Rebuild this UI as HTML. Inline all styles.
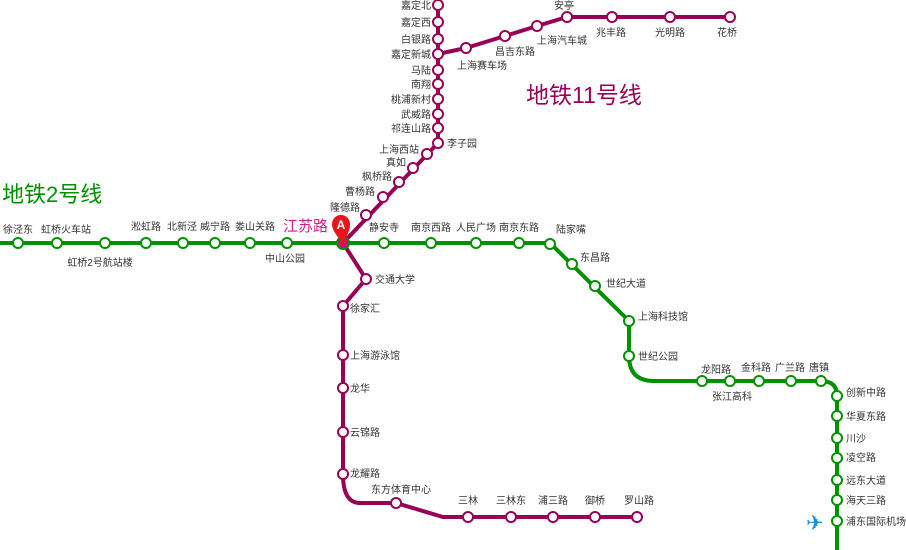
<!DOCTYPE html>
<html><head><meta charset="utf-8"><style>
html,body{margin:0;padding:0;background:#fff;}
svg{display:block;}
text{font-family:"Liberation Sans","Noto Sans CJK SC",sans-serif;font-size:10px;fill:#333;}
</style></head><body>
<svg width="906" height="550" viewBox="0 0 906 550" xmlns="http://www.w3.org/2000/svg">
<path d="M0 243 H550 L629 321 V356 Q629 381 654 381 H821 Q837 381 837 396 V550" fill="none" stroke="#009100" stroke-width="4"/>
<path d="M438 5 V143 L343 243 L366 279 L343 306 V474 Q343 503 360 503 H396 L443 517 H637" fill="none" stroke="#990055" stroke-width="4"/>
<path d="M438 54 L466 48 L505 36 L537 26 L567 17 H730" fill="none" stroke="#990055" stroke-width="4"/>
<g fill="#fff" stroke="#009100" stroke-width="2">
<circle cx="18" cy="243" r="5"/><circle cx="57" cy="243" r="5"/><circle cx="105" cy="243" r="5"/><circle cx="146" cy="243" r="5"/><circle cx="183" cy="243" r="5"/><circle cx="215" cy="243" r="5"/><circle cx="250" cy="243" r="5"/><circle cx="287" cy="243" r="5"/><circle cx="384" cy="243" r="5"/><circle cx="431" cy="243" r="5"/><circle cx="476" cy="243" r="5"/><circle cx="519" cy="243" r="5"/><circle cx="550" cy="244" r="5"/>
<circle cx="572" cy="264" r="5"/><circle cx="595" cy="286" r="5"/><circle cx="629" cy="321" r="5"/><circle cx="629" cy="356" r="5"/>
<circle cx="702" cy="381" r="5"/><circle cx="730" cy="381" r="5"/><circle cx="759" cy="381" r="5"/><circle cx="791" cy="381" r="5"/><circle cx="821" cy="381" r="5"/>
<circle cx="837" cy="396" r="5"/><circle cx="837" cy="416" r="5"/><circle cx="837" cy="438" r="5"/><circle cx="837" cy="458" r="5"/><circle cx="837" cy="480" r="5"/><circle cx="837" cy="500" r="5"/><circle cx="837" cy="521" r="5"/>
</g>
<g fill="#fff" stroke="#990055" stroke-width="2">
<circle cx="438" cy="5" r="5"/><circle cx="438" cy="22" r="5"/><circle cx="438" cy="39" r="5"/><circle cx="438" cy="54" r="5"/><circle cx="438" cy="70" r="5"/><circle cx="438" cy="84" r="5"/><circle cx="438" cy="99" r="5"/><circle cx="438" cy="114" r="5"/><circle cx="438" cy="128" r="5"/><circle cx="438" cy="143" r="5"/>
<circle cx="466" cy="48" r="5"/><circle cx="505" cy="36" r="5"/><circle cx="537" cy="26" r="5"/><circle cx="567" cy="17" r="5"/><circle cx="612" cy="17" r="5"/><circle cx="670" cy="17" r="5"/><circle cx="730" cy="17" r="5"/>
<circle cx="427" cy="154" r="5"/><circle cx="413" cy="168" r="5"/><circle cx="399" cy="182" r="5"/><circle cx="383" cy="197" r="5"/><circle cx="366" cy="215" r="5"/>
<circle cx="366" cy="279" r="5"/><circle cx="343" cy="306" r="5"/><circle cx="343" cy="355" r="5"/><circle cx="343" cy="388" r="5"/><circle cx="343" cy="432" r="5"/><circle cx="343" cy="474" r="5"/>
<circle cx="396" cy="503" r="5"/><circle cx="468" cy="517" r="5"/><circle cx="511" cy="517" r="5"/><circle cx="553" cy="517" r="5"/><circle cx="595" cy="517" r="5"/><circle cx="637" cy="517" r="5"/>
</g>
<circle cx="343" cy="243" r="6" fill="#cc1177" stroke="#009100" stroke-width="2"/>
<path d="M343 246 C339 236 332 232 332 224 A9 9 0 1 1 350 224 C350 232 346 236 343 246 Z" fill="#e8141e"/>
<text x="341" y="229" text-anchor="middle" style="font-size:12px;font-weight:bold;fill:#fff">A</text>
<text x="2" y="202" style="font-size:22px;fill:#009100">地铁2号线</text>
<text x="526" y="103" style="font-size:23px;fill:#990055">地铁11号线</text>
<text x="283" y="231" style="font-size:15px;fill:#d41c8c">江苏路</text>
<g text-anchor="middle">
<text x="18" y="233">徐泾东</text><text x="66" y="233">虹桥火车站</text><text x="100" y="266">虹桥2号航站楼</text>
<text x="146" y="230">淞虹路</text><text x="182" y="230">北新泾</text><text x="215" y="230">威宁路</text><text x="255" y="230">娄山关路</text><text x="285" y="262">中山公园</text>
<text x="384" y="231">静安寺</text><text x="431" y="231">南京西路</text><text x="476" y="231">人民广场</text><text x="519" y="231">南京东路</text><text x="571" y="233">陆家嘴</text>
<text x="716" y="373">龙阳路</text><text x="732" y="400">张江高科</text><text x="756" y="371">金科路</text><text x="790" y="371">广兰路</text><text x="819" y="371">唐镇</text>
</g>
<text x="580" y="261">东昌路</text><text x="606" y="287">世纪大道</text><text x="638" y="320">上海科技馆</text><text x="638" y="360">世纪公园</text>
<text x="846" y="396">创新中路</text><text x="846" y="420">华夏东路</text><text x="846" y="442">川沙</text><text x="846" y="461">凌空路</text><text x="846" y="484">远东大道</text><text x="846" y="504">海天三路</text><text x="846" y="525">浦东国际机场</text>
<text x="806" y="530" style="font-size:21px;fill:#1e8fd8">✈</text>
<g text-anchor="end">
<text x="431" y="9">嘉定北</text><text x="431" y="26">嘉定西</text><text x="431" y="43">白银路</text><text x="431" y="58">嘉定新城</text><text x="431" y="74">马陆</text><text x="431" y="88">南翔</text><text x="431" y="103">桃浦新村</text><text x="431" y="118">武威路</text><text x="431" y="132">祁连山路</text>
<text x="419" y="153">上海西站</text><text x="406" y="166">真如</text><text x="392" y="180">枫桥路</text><text x="375" y="195">曹杨路</text><text x="360" y="211">隆德路</text>
</g>
<text x="447" y="147">李子园</text>
<g text-anchor="middle">
<text x="482" y="69">上海赛车场</text><text x="515" y="55">昌吉东路</text><text x="562" y="44">上海汽车城</text><text x="564" y="9">安亭</text><text x="611" y="36">兆丰路</text><text x="670" y="36">光明路</text><text x="727" y="36">花桥</text>
<text x="401" y="493">东方体育中心</text><text x="468" y="504">三林</text><text x="511" y="504">三林东</text><text x="553" y="504">浦三路</text><text x="595" y="504">御桥</text><text x="639" y="504">罗山路</text>
</g>
<text x="375" y="283">交通大学</text><text x="350" y="312">徐家汇</text><text x="350" y="359">上海游泳馆</text><text x="350" y="392">龙华</text><text x="350" y="436">云锦路</text><text x="350" y="477">龙耀路</text>
</svg>
</body></html>
